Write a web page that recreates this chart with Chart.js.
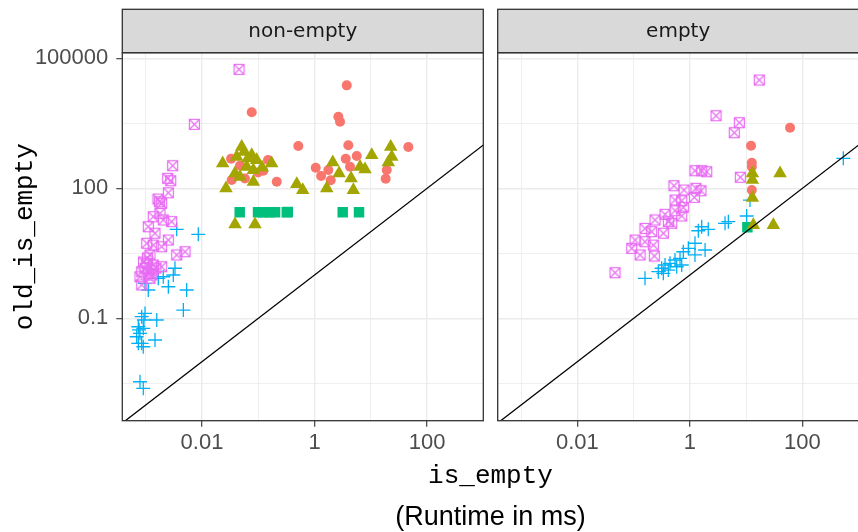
<!DOCTYPE html>
<html>
<head>
<meta charset="utf-8">
<script src="https://cdn.jsdelivr.net/npm/chart.js@4.4.0/dist/chart.umd.min.js"></script>
<style>
  html, body { margin: 0; padding: 0; background: #fff; }
  html { overflow: hidden; }
  body { width: 858px; height: 532px; overflow: hidden; position: relative; }
  canvas { position: absolute; top: 0; }
  .xt { position: absolute; white-space: nowrap; transform: translateX(-50%); color: #000; }
</style>
</head>
<body>
<canvas id="left" width="490" height="532" style="left:0"></canvas>
<canvas id="right" width="370" height="532" style="left:490px"></canvas>
<div class="xt" id="xtitle" style="left:490.5px; top:463px; font: 26px/26px 'Liberation Mono', 'DejaVu Sans Mono', monospace;">is_empty</div>
<div class="xt" id="xsub" style="left:490.5px; top:503px; font: 27px/27px 'Liberation Sans', 'DejaVu Sans', sans-serif;">(Runtime in ms)</div>
<script>
// ---------- data ----------
const facetLabels = ['non-empty', 'empty'];
const xMajorTicks = [0.01, 1, 100];
const xTickLabels = ['0.01', '1', '100'];
const xMinorTicks = [0.001, 0.1, 10, 1000];
const yMajorTicks = [0.1, 100, 100000];
const yTickLabels = ['0.1', '100', '100000'];
const yMinorTicks = [0.00316, 3.16, 3162];
const xLimits = [0.000383, 1000];
const yLimits = [0.000434, 134900];
const identityLine = [0.0001, 10000];

// non-empty panel
const nonEmptyMagenta = [[0.0455,55800],[0.0073,3000],[0.00301,333],[0.00245,170],[0.00278,150],[0.00252,79],[0.00165,56.6],[0.00176,49],[0.00192,45],[0.00179,26.5],[0.00136,22.1],[0.00205,18.6],[0.00289,17],[0.00111,13],[0.00146,9.2],[0.00252,6.4],[0.00104,5.4],[0.00136,4.9],[0.00192,4.5],[0.00355,2.9],[0.00499,3.44],[0.00119,2.9],[0.00104,1.86],[0.00136,1.7],[0.00192,1.55],[0.000847,1.19],[0.00111,1.09],[0.00079,0.91],[0.00119,0.84],[0.000847,0.59],[0.00136,1.3],[0.00097,1.43],[0.00091,2.0],[0.00107,2.47],[0.00129,1.0],[0.00152,1.45]];
const nonEmptyBlue = [[0.00355,11.3],[0.00859,8.7],[0.00331,1.43],[0.00309,1.0],[0.00205,0.91],[0.00252,0.536],[0.00534,0.45],[0.00111,0.45],[0.00167,0.84],[0.00466,0.155],[0.00097,0.13],[0.000847,0.109],[0.00157,0.0914],[0.000738,0.064],[0.000904,0.0588],[0.00079,0.045],[0.00069,0.0376],[0.00146,0.0316],[0.000847,0.0265],[0.000738,0.0265],[0.000904,0.0221],[0.00079,0.00344],[0.000904,0.00242],[0.00097,0.643],[0.00093,0.0914],[0.00076,0.054]];
const nonEmptyRed = [[3.74,23800],[0.0765,5680],[2.65,4500],[2.84,3440],[0.515,947],[3.99,984],[46.5,898],[0.0328,482],[5.63,557],[3.59,482],[1.05,299],[1.31,192],[1.76,265],[1.94,153],[4.28,315],[0.213,142],[19.2,265],[18.4,167],[0.123,255],[0.0337,156],[0.0474,337],[0.099,232],[0.058,169],[0.149,451]];
const nonEmptyOlive = [[0.0508,912],[0.0233,378],[0.0765,587],[0.173,378],[0.0938,450],[0.0414,536],[0.0623,315],[0.0817,265],[0.0386,222],[0.0474,185],[0.0817,142],[0.0267,100],[0.483,126],[0.617,91.4],[1.65,100],[2.11,398],[2.73,222],[4.46,170],[4.90,91.4],[10.4,587],[6.44,315],[7.9,275],[22.6,912],[23.6,536],[20.5,398],[0.0386,14.8],[0.0875,14.8],[0.0558,692],[0.117,302],[0.0657,490]];
const nonEmptyGreen = [[0.0468,27.9],[0.099,27.9],[0.125,27.9],[0.155,27.9],[0.199,27.9],[0.321,27.9],[0.335,28.5],[3.17,27.9],[6.18,27.9]];

// empty panel
const emptyMagenta = [[17.1,31600],[2.91,4740],[7.55,3270],[6.15,1920],[1.23,255],[1.62,255],[1.99,242],[7.87,180],[0.521,115],[0.785,91.4],[1.28,100],[1.57,88],[1.20,62],[0.543,53.7],[0.715,51.8],[0.763,36.4],[0.543,30.4],[0.361,25.1],[0.715,23],[0.24,18.6],[0.413,17],[0.475,15.6],[0.159,11.9],[0.209,10],[0.337,9.2],[0.106,6.4],[0.159,5.86],[0.224,4.9],[0.0923,4.12],[0.13,2.9],[0.233,2.74],[0.0466,1.13]];
const emptyBlue = [[533,493],[11.7,53.7],[10.2,23],[4.82,17],[4.21,15.6],[2.12,11.3],[1.62,13],[1.41,10.5],[1.23,5.4],[0.937,4.12],[1.86,3.77],[0.763,3.44],[0.667,2.42],[1.23,2.9],[0.543,2.22],[0.443,1.86],[0.361,1.7],[0.315,1.43],[0.413,1.3],[0.274,1.19],[0.715,1.7],[0.159,0.84],[0.582,1.55],[0.337,1.09]];
const emptyRed = [[60.2,2500],[12.2,962],[12.6,390],[12.6,315],[12.6,91.4]];
const emptyOlive = [[12.9,222],[12.9,156],[40,222],[12.9,60],[13.4,14.2],[30.4,14.2]];
const emptyGreen = [[10.5,12.6]];

// ---------- styling / helpers ----------
const COL = { red: '#F8766D', olive: '#A3A500', green: '#00BF7D', blue: '#00B0F6', magenta: '#E76BF3' };

function squareCross() {
  const c = document.createElement('canvas');
  c.width = 13; c.height = 13;
  const g = c.getContext('2d');
  g.strokeStyle = COL.magenta; g.lineWidth = 1.15;
  g.strokeRect(1.5, 1.5, 10, 10);
  g.beginPath();
  g.moveTo(1.5, 1.5); g.lineTo(11.5, 11.5);
  g.moveTo(11.5, 1.5); g.lineTo(1.5, 11.5);
  g.stroke();
  return c;
}
const sqx = squareCross();

const toPts = arr => arr.map(([x, y]) => ({ x, y }));

function datasets(p) {
  return [
    { data: identityLine.map(v => ({ x: v, y: v })), showLine: true, borderColor: '#000', borderWidth: 1.3, pointRadius: 0, order: 0, clip: 0 },
    { data: toPts(p.olive), pointStyle: 'triangle', pointRadius: 7.8, backgroundColor: COL.olive, borderWidth: 0, order: 1 },
    { data: toPts(p.red), pointStyle: 'circle', pointRadius: 5, backgroundColor: COL.red, borderWidth: 0, order: 2 },
    { data: toPts(p.green), pointStyle: 'rect', pointRadius: 7.4, backgroundColor: COL.green, borderWidth: 0, order: 3 },
    { data: toPts(p.magenta), pointStyle: sqx, pointRadius: 6, backgroundColor: 'rgba(0,0,0,0)', borderWidth: 0, order: 4 },
    { data: toPts(p.blue), pointStyle: 'cross', pointRadius: 7, backgroundColor: 'rgba(0,0,0,0)', borderColor: COL.blue, borderWidth: 1.3, order: 5 }
  ];
}

const isIn = (arr, ctx) => ctx && ctx.tick && arr.some(v => Math.abs(v - ctx.tick.value) / v < 1e-6);

function xScale() {
  return {
    type: 'logarithmic', position: 'bottom', min: xLimits[0], max: xLimits[1], bounds: 'data',
    afterBuildTicks: s => { s.ticks = [...xMinorTicks, ...xMajorTicks].sort((a, b) => a - b).map(v => ({ value: v })); },
    afterFit: s => { s.height = 111.3; s.paddingLeft = 0; s.paddingRight = 0; },
    ticks: {
      autoSkip: false, maxRotation: 0, minRotation: 0, padding: 3, color: '#4D4D4D',
      font: { family: "'Liberation Sans', 'DejaVu Sans', sans-serif", size: 22 },
      callback: v => { const i = xMajorTicks.findIndex(t => Math.abs(t - v) / t < 1e-6); return i >= 0 ? xTickLabels[i] : ''; }
    },
    grid: {
      color: '#EBEBEB',
      lineWidth: ctx => isIn(xMajorTicks, ctx) ? 1.4 : 0.8,
      tickLength: 6,
      tickColor: ctx => isIn(xMajorTicks, ctx) ? '#333333' : 'rgba(0,0,0,0)',
      tickWidth: 1.1
    },
    border: { display: false }
  };
}

function yScale(showLabels) {
  return {
    type: 'logarithmic', position: 'left', min: yLimits[0], max: yLimits[1], bounds: 'data',
    afterBuildTicks: s => { s.ticks = [...yMinorTicks, ...yMajorTicks].sort((a, b) => a - b).map(v => ({ value: v })); },
    afterFit: s => { s.width = showLabels ? 122.3 : 0; s.paddingTop = 0; s.paddingBottom = 0; },
    ticks: {
      display: showLabels, autoSkip: false, padding: 8, color: '#4D4D4D',
      font: { family: "'Liberation Sans', 'DejaVu Sans', sans-serif", size: 22 },
      callback: v => { const i = yMajorTicks.findIndex(t => Math.abs(t - v) / t < 1e-6); return i >= 0 ? yTickLabels[i] : ''; }
    },
    grid: {
      color: '#EBEBEB',
      lineWidth: ctx => isIn(yMajorTicks, ctx) ? 1.4 : 0.8,
      drawTicks: showLabels,
      tickLength: 6,
      tickColor: ctx => isIn(yMajorTicks, ctx) ? '#333333' : 'rgba(0,0,0,0)',
      tickWidth: 1.1
    },
    border: { display: false },
    title: {
      display: showLabels, text: 'old_is_empty', color: '#000',
      font: { family: "'Liberation Mono', 'DejaVu Sans Mono', monospace", size: 26, lineHeight: 1 },
      padding: { top: 12, bottom: 0 }
    }
  };
}

const facetPlugin = {
  id: 'facet',
  afterDraw(chart, args, opts) {
    const { ctx, chartArea: a } = chart;
    const stripTop = 9.3;
    ctx.save();
    ctx.fillStyle = '#D9D9D9';
    ctx.fillRect(a.left, stripTop, a.right - a.left, a.top - stripTop);
    ctx.strokeStyle = '#333333';
    ctx.lineWidth = 1.3;
    ctx.strokeRect(a.left, stripTop, a.right - a.left, a.top - stripTop);
    ctx.strokeRect(a.left, a.top, a.right - a.left, a.bottom - a.top);
    ctx.fillStyle = '#1A1A1A';
    ctx.font = "20px 'DejaVu Sans', sans-serif";
    ctx.textAlign = 'center';
    ctx.textBaseline = 'middle';
    ctx.fillText(opts.label, (a.left + a.right) / 2, (stripTop + a.top) / 2 + 1);
    ctx.restore();
  }
};

function makeChart(id, panel, label, showY, padding) {
  return new Chart(document.getElementById(id), {
    type: 'scatter',
    data: { datasets: datasets(panel) },
    options: {
      responsive: false, animation: false, events: [],
      layout: { padding, autoPadding: false },
      plugins: { legend: { display: false }, tooltip: { enabled: false }, facet: { label } },
      scales: { x: xScale(), y: yScale(showY) }
    },
    plugins: [facetPlugin]
  });
}

makeChart('left', { magenta: nonEmptyMagenta, blue: nonEmptyBlue, red: nonEmptyRed, olive: nonEmptyOlive, green: nonEmptyGreen },
  facetLabels[0], true, { top: 52.7, right: 6.7, bottom: 0, left: 0 });
makeChart('right', { magenta: emptyMagenta, blue: emptyBlue, red: emptyRed, olive: emptyOlive, green: emptyGreen },
  facetLabels[1], false, { top: 52.7, right: 1.3, bottom: 0, left: 7.7 });
</script>
</body>
</html>
